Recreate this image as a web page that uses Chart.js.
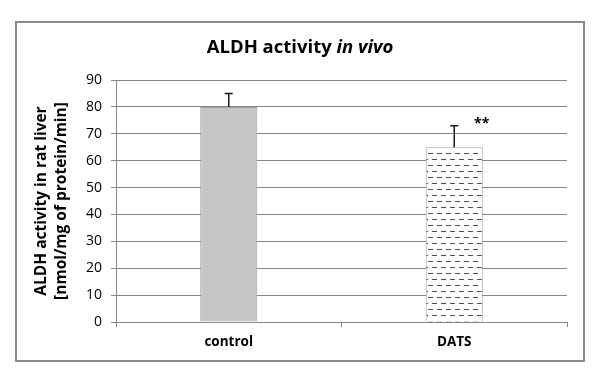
<!DOCTYPE html>
<html><head><meta charset="utf-8">
<script src="https://cdn.jsdelivr.net/npm/chart.js@4"></script>
<style>html,body{margin:0;padding:0;background:#fff}canvas{display:block}</style>
</head><body>
<canvas id="c" width="600" height="379"></canvas>
<script>
const categories = ['control', 'DATS'];
const activity = [80, 65];
const errorUp = [5, 8];
const significance = ['', '**'];
const yMin = 0, yMax = 90, yStep = 10;
const titleParts = [['ALDH activity ', 'bold'], ['in vivo', 'italic bold']];
const yTitle = ['ALDH activity in rat liver', '[nmol/mg of protein/min]'];

const FONT = "'Open Sans', 'DejaVu Sans', sans-serif";
const GRID = '#868686';

function dashPattern() {
  const c = document.createElement('canvas');
  c.width = 9; c.height = 12;
  const g = c.getContext('2d');
  g.fillStyle = '#fff'; g.fillRect(0, 0, 9, 12);
  g.fillStyle = '#505050';
  g.fillRect(0, 3, 5, 1);
  g.fillRect(5, 9, 4, 1);
  g.fillRect(0, 9, 1, 1);
  return g.createPattern(c, 'repeat');
}

const framePlugin = {
  id: 'frame',
  beforeDraw(chart) {
    const ctx = chart.ctx;
    ctx.save();
    ctx.fillStyle = '#fff';
    ctx.fillRect(0, 0, chart.width, chart.height);
    ctx.strokeStyle = '#8a8a8a';
    ctx.lineWidth = 2;
    ctx.strokeRect(16, 22, 568, 339);
    ctx.restore();
  }
};

const titlePlugin = {
  id: 'mixedTitle',
  afterDraw(chart) {
    const ctx = chart.ctx;
    ctx.save();
    const size = 18.5;
    let total = 0;
    const widths = titleParts.map(([t, st]) => {
      ctx.font = st + ' ' + size + 'px ' + FONT;
      const w = ctx.measureText(t).width; total += w; return w;
    });
    let x = 300 - total / 2;
    ctx.fillStyle = '#000';
    ctx.textBaseline = 'middle';
    ctx.textAlign = 'left';
    titleParts.forEach(([t, st], i) => {
      ctx.font = st + ' ' + size + 'px ' + FONT;
      ctx.fillText(t, x, 48);
      x += widths[i];
    });
    ctx.restore();
  }
};

const errorPlugin = {
  id: 'errorBars',
  afterDatasetsDraw(chart) {
    const ctx = chart.ctx;
    const yScale = chart.scales.y;
    const meta = chart.getDatasetMeta(0);
    ctx.save();
    meta.data.forEach((bar, i) => {
      const yTop = yScale.getPixelForValue(activity[i] + errorUp[i]);
      ctx.strokeStyle = '#1a1a1a';
      ctx.lineWidth = 1.5;
      ctx.beginPath();
      ctx.moveTo(bar.x, bar.y);
      ctx.lineTo(bar.x, yTop);
      ctx.moveTo(bar.x - 4, yTop);
      ctx.lineTo(bar.x + 4, yTop);
      ctx.stroke();
      if (significance[i]) {
        ctx.fillStyle = '#000';
        ctx.font = 'bold 14px ' + FONT;
        ctx.textAlign = 'center';
        ctx.textBaseline = 'middle';
        ctx.fillText(significance[i], bar.x + bar.width * 0.48, yTop - 2);
      }
    });
    ctx.restore();
  }
};

new Chart(document.getElementById('c'), {
  type: 'bar',
  data: {
    labels: categories,
    datasets: [{
      data: activity,
      backgroundColor: ['#c6c6c6', dashPattern()],
      borderColor: '#a0a0a0',
      borderWidth: 1,
      borderSkipped: 'bottom',
      categoryPercentage: 1,
      barPercentage: 0.253
    }]
  },
  options: {
    responsive: false,
    animation: false,
    devicePixelRatio: 1,
    layout: { padding: { left: 16, right: 33, top: 80, bottom: 18 } },
    plugins: { legend: { display: false }, title: { display: false }, tooltip: { enabled: false } },
    scales: {
      x: {
        offset: true,
        grid: { offset: true, drawOnChartArea: false, drawTicks: true, tickLength: 5, color: GRID },
        border: { display: true, color: GRID, width: 1 },
        ticks: { color: '#000', font: { family: FONT, size: 13.5, weight: 'bold' }, padding: 7 },
        afterFit(s) { s.height = 39; }
      },
      y: {
        min: yMin, max: yMax,
        grid: { color: GRID, tickLength: 5, drawTicks: true },
        border: { display: true, color: GRID, width: 1 },
        ticks: { stepSize: yStep, color: '#000', font: { family: FONT, size: 14 }, padding: 9 },
        title: {
          display: true, text: yTitle, color: '#000',
          font: { family: FONT, size: 15.5, weight: 'bold', lineHeight: '20px' },
          padding: { top: 16, bottom: 0 }
        },
        afterFit(s) { s.width = 100; }
      }
    }
  },
  plugins: [framePlugin, titlePlugin, errorPlugin]
});
</script>
</body></html>
